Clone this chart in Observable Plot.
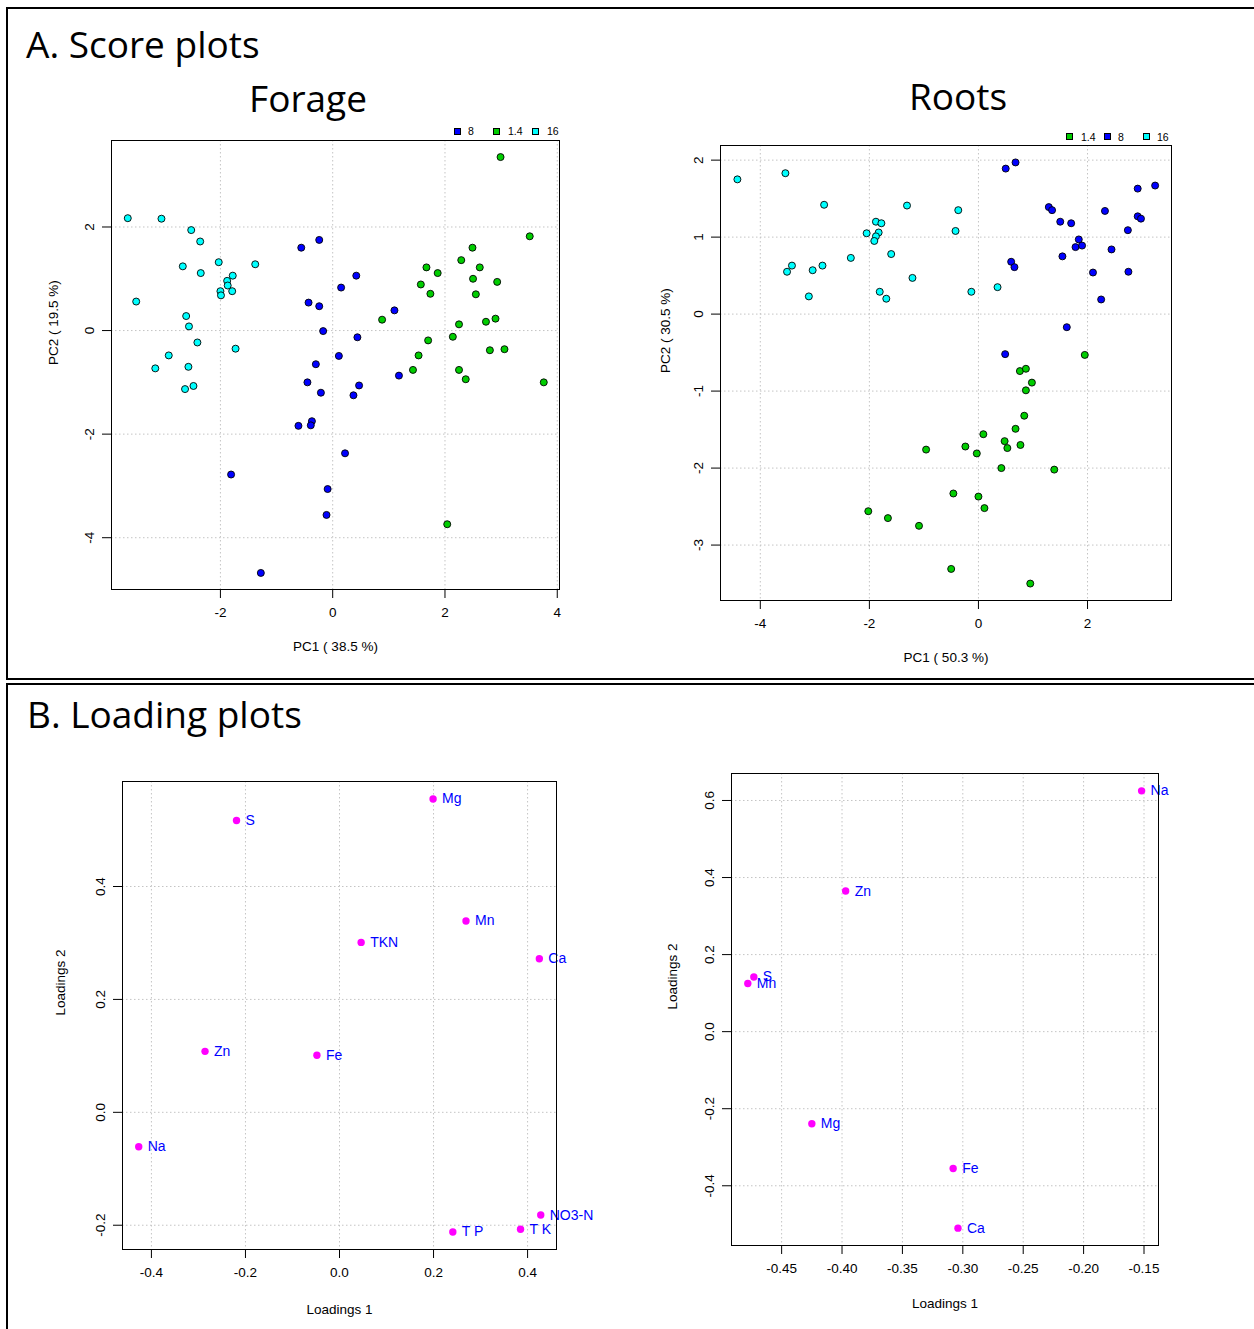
<!DOCTYPE html>
<html><head><meta charset="utf-8">
<script src="https://cdn.jsdelivr.net/npm/d3@7"></script>
<script src="https://cdn.jsdelivr.net/npm/@observablehq/plot@0.6"></script>
<style>
body{margin:0;background:#fff;}
#page{position:relative;width:1254px;height:1329px;overflow:hidden;font-family:"Liberation Sans",Arial,sans-serif;background:#fff;}
.box{position:absolute;border:2.5px solid #000;box-sizing:border-box;}
.title{position:absolute;font-family:"Open Sans",sans-serif;font-size:37px;line-height:1;color:#000;white-space:nowrap;}
.panel{position:absolute;}
.lg-sw{position:absolute;width:7px;height:7px;border:1px solid #000;box-sizing:border-box;}
.lg-tx{position:absolute;font-size:10.5px;line-height:10px;white-space:nowrap;color:#000;}
</style></head>
<body><div id="page"></div>
<script>
// ---------- DATA ----------
// Score plot, Forage: [PC1, PC2] per group
const forage8 = [[-0.56,1.60],[-0.24,1.75],[0.42,1.06],[0.15,0.83],[-0.43,0.54],[-0.24,0.47],[1.10,0.39],[-0.17,-0.01],[0.44,-0.13],[0.11,-0.49],[-0.30,-0.65],[1.18,-0.87],[-0.45,-1.00],[0.47,-1.06],[-0.21,-1.20],[0.37,-1.25],[-0.61,-1.84],[-0.37,-1.75],[-0.39,-1.83],[0.22,-2.37],[-1.81,-2.78],[-0.09,-3.06],[-0.11,-3.56],[-1.28,-4.68]];
const forage14 = [[2.99,3.35],[3.51,1.82],[2.49,1.60],[2.29,1.36],[1.67,1.22],[2.62,1.22],[1.87,1.11],[2.50,1.00],[2.93,0.94],[1.57,0.89],[1.74,0.71],[2.55,0.70],[0.88,0.21],[2.25,0.12],[2.73,0.17],[2.90,0.23],[2.14,-0.12],[1.70,-0.19],[2.80,-0.38],[3.06,-0.36],[1.53,-0.48],[1.43,-0.76],[2.25,-0.76],[2.37,-0.94],[3.76,-1.00],[2.04,-3.74]];
const forage16 = [[-3.65,2.17],[-3.05,2.16],[-2.52,1.94],[-2.36,1.72],[-2.67,1.24],[-2.35,1.11],[-2.03,1.32],[-1.38,1.28],[-1.78,1.06],[-1.88,0.96],[-1.87,0.87],[-2.00,0.76],[-1.99,0.68],[-1.79,0.76],[-3.50,0.56],[-2.61,0.28],[-2.56,0.08],[-2.41,-0.23],[-1.73,-0.35],[-2.92,-0.48],[-3.16,-0.73],[-2.57,-0.70],[-2.63,-1.13],[-2.48,-1.07]];

// Score plot, Roots
const roots14 = [[1.95,-0.53],[0.76,-0.74],[0.87,-0.71],[0.98,-0.89],[0.87,-0.99],[0.84,-1.32],[0.68,-1.49],[0.09,-1.56],[0.48,-1.65],[0.53,-1.74],[0.77,-1.70],[-0.24,-1.72],[-0.96,-1.76],[-0.03,-1.81],[0.42,-2.00],[1.39,-2.02],[-0.46,-2.33],[0.00,-2.37],[0.11,-2.52],[-2.02,-2.56],[-1.66,-2.65],[-1.09,-2.75],[-0.50,-3.31],[0.95,-3.50]];
const roots8 = [[0.50,1.89],[0.68,1.97],[1.29,1.39],[1.35,1.35],[1.50,1.20],[1.70,1.18],[1.84,0.97],[1.78,0.87],[1.90,0.89],[1.54,0.75],[0.60,0.68],[0.66,0.61],[2.10,0.54],[2.32,1.34],[2.44,0.84],[2.74,1.09],[2.92,1.27],[2.98,1.24],[2.92,1.63],[3.24,1.67],[2.75,0.55],[2.25,0.19],[1.62,-0.17],[0.49,-0.52]];
const roots16 = [[-4.42,1.75],[-3.54,1.83],[-2.83,1.42],[-1.31,1.41],[-0.37,1.35],[-1.88,1.20],[-1.78,1.18],[-2.05,1.05],[-1.83,1.06],[-1.88,1.01],[-1.91,0.95],[-0.42,1.08],[-1.60,0.78],[-2.34,0.73],[-3.42,0.63],[-3.51,0.55],[-3.04,0.57],[-2.86,0.63],[-1.21,0.47],[-3.11,0.23],[-1.81,0.29],[-1.69,0.20],[-0.13,0.29],[0.35,0.35]];

// Loading plot, Forage
const forageVars = ["Mg","S","Mn","TKN","Ca","Zn","Fe","Na","NO3-N","T K","T P"];
const forageL1 = [0.199,-0.219,0.269,0.046,0.425,-0.286,-0.048,-0.427,0.428,0.385,0.241];
const forageL2 = [0.555,0.517,0.339,0.301,0.272,0.108,0.101,-0.061,-0.182,-0.207,-0.212];

// Loading plot, Roots
const rootsVars = ["Na","Zn","S","Mn","Mg","Fe","Ca"];
const rootsL1 = [-0.152,-0.397,-0.473,-0.478,-0.425,-0.308,-0.304];
const rootsL2 = [0.625,0.365,0.142,0.125,-0.239,-0.355,-0.510];

// Tick values
const forageScoreXTicks = [-2,0,2,4];
const forageScoreYTicks = [-4,-2,0,2];
const rootsScoreXTicks = [-4,-2,0,2];
const rootsScoreYTicks = [-3,-2,-1,0,1,2];
const forageLoadXTicks = [-0.4,-0.2,0,0.2,0.4];
const forageLoadYTicks = [-0.2,0,0.2,0.4];
const rootsLoadXTicks = [-0.45,-0.40,-0.35,-0.30,-0.25,-0.20,-0.15];
const rootsLoadYTicks = [-0.4,-0.2,0,0.2,0.4,0.6];

// Group labels & colours
const groupColors = {"8":"#0000ff","1.4":"#00cd00","16":"#00ffff"};

// ---------- LAYOUT ----------
const page = document.getElementById("page");
function el(tag, cls, css, text){
  const e = document.createElement(tag);
  if (cls) e.className = cls;
  Object.assign(e.style, css || {});
  if (text != null) e.textContent = text;
  page.appendChild(e);
  return e;
}
el("div","box",{left:"6px",top:"7px",width:"1260px",height:"673px"});
el("div","box",{left:"6px",top:"683px",width:"1260px",height:"660px"});
el("div","title",{left:"26px",top:"25px"},"A. Score plots");
el("div","title",{left:"308px",top:"79px",transform:"translateX(-50%)"},"Forage");
el("div","title",{left:"958px",top:"77px",transform:"translateX(-50%)"},"Roots");
el("div","title",{left:"27px",top:"695px"},"B. Loading plots");

function legend(items, cy){
  for (const it of items){
    el("div","lg-sw",{left:(it.sx-3.5)+"px",top:(cy-3.5)+"px",background:groupColors[it.g]});
    el("div","lg-tx",{left:it.tx+"px",top:(cy-5)+"px"},it.g);
  }
}
legend([{g:"8",sx:457,tx:468},{g:"1.4",sx:496,tx:508},{g:"16",sx:535,tx:547}],131);
legend([{g:"1.4",sx:1069,tx:1081},{g:"8",sx:1107,tx:1118},{g:"16",sx:1146,tx:1157}],136.5);

const gridStyle = {stroke:"#c4c4c4", strokeOpacity:1, strokeDasharray:"1.5,2.5"};

function panel(o){
  const [fl,ft,fr,fb] = o.frame;
  const svg = Plot.plot({
    width:o.width, height:o.height,
    marginLeft: fl-o.left, marginTop: ft-o.top,
    marginRight: o.left+o.width-fr, marginBottom: o.top+o.height-fb,
    x:{domain:o.xDomain}, y:{domain:o.yDomain},
    style:{fontFamily:"'Liberation Sans', Arial, sans-serif", fontSize:o.fontSize+"px", background:"transparent", color:"#000"},
    marks:[
      Plot.gridX(o.xTicks, gridStyle),
      Plot.gridY(o.yTicks, gridStyle),
      Plot.axisX(o.xTicks, {tickSize:9, tickPadding:9, tickFormat:o.xFmt, label:null, stroke:"#000"}),
      Plot.axisY(o.yTicks, {tickSize:9, tickPadding:9, tickRotate:-90, tickFormat:o.yFmt, label:null, stroke:"#000"}),
      ...o.marks,
      Plot.frame({stroke:"#000", strokeWidth:1}),
      Plot.text([o.xLabel], {frameAnchor:"bottom", dy:o.xLabelDy, text:d=>d, lineAnchor:"middle", fill:"#000"}),
      Plot.text([o.yLabel], {frameAnchor:"left", dx:-o.yLabelDx, rotate:-90, text:d=>d, lineAnchor:"middle", fill:"#000"})
    ]
  });
  const wrap = el("div","panel",{left:o.left+"px",top:o.top+"px"});
  wrap.appendChild(svg);
}

function scoreRows(groups){
  const rows = [];
  for (const [g, pts] of groups) for (const [x,y] of pts) rows.push({g, x, y});
  return rows;
}
const forageScores = scoreRows([["16",forage16],["8",forage8],["1.4",forage14]]);
const rootsScores = scoreRows([["16",roots16],["8",roots8],["1.4",roots14]]);
const scoreDots = rows => Plot.dot(rows, {x:"x", y:"y", r:3.5, fill:d=>groupColors[d.g], stroke:"#000", strokeWidth:0.9});

const intFmt = d => String(d);
panel({left:40, top:125, width:540, height:545, frame:[111,140,559,589],
  xDomain:[-3.94,4.04], yDomain:[-5.0,3.67], xTicks:forageScoreXTicks, yTicks:forageScoreYTicks,
  xFmt:intFmt, yFmt:intFmt, fontSize:13.5,
  marks:[scoreDots(forageScores)],
  xLabel:"PC1 ( 38.5 %)", xLabelDy:57, yLabel:"PC2 ( 19.5 %)", yLabelDx:58});

panel({left:650, top:125, width:540, height:545, frame:[720,145,1171,600],
  xDomain:[-4.73,3.54], yDomain:[-3.72,2.19], xTicks:rootsScoreXTicks, yTicks:rootsScoreYTicks,
  xFmt:intFmt, yFmt:intFmt, fontSize:13.5,
  marks:[scoreDots(rootsScores)],
  xLabel:"PC1 ( 50.3 %)", xLabelDy:57, yLabel:"PC2 ( 30.5 %)", yLabelDx:55});

const forageLoad = forageVars.map((v,i)=>({v, x:forageL1[i], y:forageL2[i]}));
const rootsLoad = rootsVars.map((v,i)=>({v, x:rootsL1[i], y:rootsL2[i]}));
const loadMarks = rows => [
  Plot.dot(rows, {x:"x", y:"y", r:3.7, fill:"#ff00ff"}),
  Plot.text(rows, {x:"x", y:"y", text:"v", dx:9, textAnchor:"start", lineAnchor:"middle", fill:"#0000ff", fontSize:14})
];

panel({left:40, top:760, width:580, height:565, frame:[122,781,556,1249],
  xDomain:[-0.4615,0.4615], yDomain:[-0.243,0.586], xTicks:forageLoadXTicks, yTicks:forageLoadYTicks,
  xFmt:d=>d.toFixed(1), yFmt:d=>d.toFixed(1), fontSize:13.5,
  marks:loadMarks(forageLoad),
  xLabel:"Loadings 1", xLabelDy:60, yLabel:"Loadings 2", yLabelDx:62});

panel({left:650, top:760, width:580, height:565, frame:[731,773,1158,1245],
  xDomain:[-0.4915,-0.138], yDomain:[-0.555,0.670], xTicks:rootsLoadXTicks, yTicks:rootsLoadYTicks,
  xFmt:d=>d.toFixed(2), yFmt:d=>d.toFixed(1), fontSize:13.5,
  marks:loadMarks(rootsLoad),
  xLabel:"Loadings 1", xLabelDy:58, yLabel:"Loadings 2", yLabelDx:59});
</script>
</body></html>
